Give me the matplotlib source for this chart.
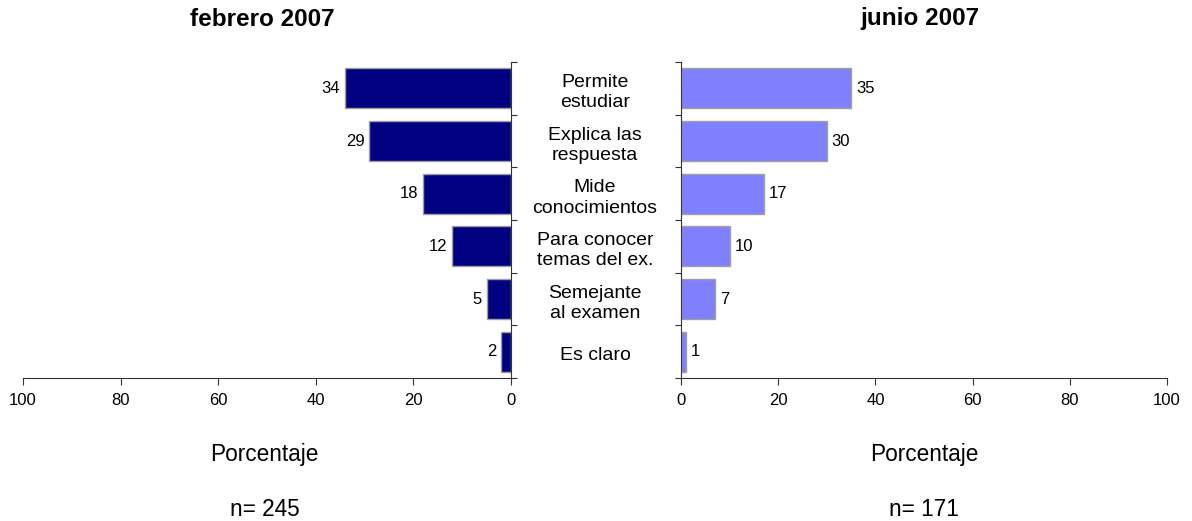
import numpy as np
import matplotlib.pyplot as plt
import matplotlib.transforms as mtransforms

plt.rcParams['font.family'] = ['Liberation Sans', 'DejaVu Sans']

categorias = ['Permite\nestudiar', 'Explica las\nrespuesta', 'Mide\nconocimientos',
              'Para conocer\ntemas del ex.', 'Semejante\nal examen', 'Es claro']
febrero = [34, 29, 18, 12, 5, 2]
junio = [35, 30, 17, 10, 7, 1]
ticks_x = [0, 20, 40, 60, 80, 100]

fig = plt.figure(figsize=(11.92, 5.21), dpi=100)
ax1 = fig.add_axes([23 / 1192, 1 - 378 / 521, (511 - 23) / 1192, (378 - 62) / 521])
ax2 = fig.add_axes([681 / 1192, 1 - 378 / 521, (1167 - 681) / 1192, (378 - 62) / 521])

y = np.arange(len(categorias))

for ax, vals, color, side in [(ax1, febrero, '#000080', 'left'),
                              (ax2, junio, '#8080FF', 'right')]:
    ax.barh(y, vals, height=0.76, color=color, edgecolor='#a0a0a0', linewidth=1)
    ax.set_xlim(0, 100)
    ax.set_ylim(len(categorias) - 0.5, -0.5)
    ax.set_xticks(ticks_x)
    ax.set_yticks(np.arange(len(categorias) + 1) - 0.5)
    ax.set_yticklabels([])
    ax.tick_params(axis='x', direction='out', length=5, labelsize=12, pad=6, color='#333333')
    ax.tick_params(axis='y', direction='out', length=4, color='#333333')
    for s in ['top', 'left', 'right', 'bottom']:
        ax.spines[s].set_visible(False)
    ax.spines['bottom'].set_visible(True)
    ax.spines['bottom'].set_color('#333333')
    for i, v in enumerate(vals):
        if side == 'left':
            ax.text(v + 1.0, i, str(v), ha='right', va='center', fontsize=12)
        else:
            ax.text(v + 1.0, i, str(v), ha='left', va='center', fontsize=12)

ax1.invert_xaxis()
ax1.spines['right'].set_visible(True)
ax1.spines['right'].set_color('#333333')
ax1.yaxis.tick_right()
ax2.spines['left'].set_visible(True)
ax2.spines['left'].set_color('#333333')

trans = mtransforms.blended_transform_factory(fig.transFigure, ax1.transData)
for i, c in enumerate(categorias):
    fig.text(595 / 1192, i + 0.08, c, transform=trans, ha='center', va='center',
             fontsize=14, linespacing=1.25)

fig.text(262 / 1192, 1 - 19 / 521, 'febrero 2007', ha='center', va='center',
         fontsize=17.5, fontweight='bold')
fig.text(920 / 1192, 1 - 19 / 521, 'junio 2007', ha='center', va='center',
         fontsize=17.5, fontweight='bold')
fig.text(264 / 1192, 1 - 454 / 521, 'Porcentaje', ha='center', va='center', fontsize=16.3)
fig.text(924 / 1192, 1 - 454 / 521, 'Porcentaje', ha='center', va='center', fontsize=16.3)
fig.text(265 / 1192, 1 - 509 / 521, 'n= 245', ha='center', va='center', fontsize=16.3)
fig.text(924 / 1192, 1 - 509 / 521, 'n= 171', ha='center', va='center', fontsize=16.3)

fig.savefig('out.png', dpi=100)
